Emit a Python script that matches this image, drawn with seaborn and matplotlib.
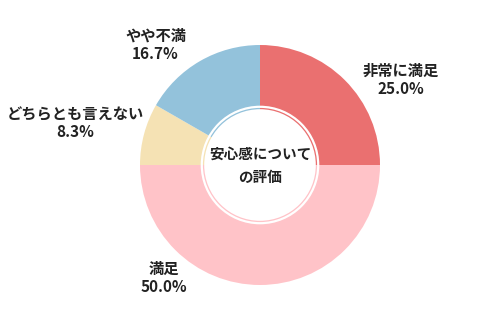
import matplotlib
matplotlib.use("Agg")
import matplotlib.pyplot as plt
from matplotlib.patches import Circle
import seaborn as sns
import numpy as np

labels = ["非常に満足", "満足", "どちらとも言えない", "やや不満"]
values = [25.0, 50.0, 8.3, 16.7]
colors = ["#EA7070", "#FFC3C8", "#F5E2B4", "#93C2DB"]
center_title = "安心感について\nの評価"

sns.set_theme(style="white")
plt.rcParams['font.family'] = ['Noto Sans CJK JP', 'DejaVu Sans']

fig = plt.figure(figsize=(5.0, 3.21), dpi=100)
ax = fig.add_axes([0, 0, 1, 1])

ax.pie(values, colors=colors, startangle=90, counterclock=False,
       radius=1.0, wedgeprops=dict(linewidth=0))

ax.add_patch(Circle((0, 0), 0.485, facecolor='none', edgecolor='white', lw=1.6, zorder=3))
ax.add_patch(Circle((0, 0), 0.465, facecolor='white', edgecolor='none', zorder=4))
ax.text(0, 0.0, center_title, ha='center', va='center', fontsize=10.5,
        fontweight='bold', color='#222222', linespacing=1.55, zorder=5)

# label positions (offsets in radius units)
label_pos = [(1.17, 0.71), (-0.80, -0.94), (-1.54, 0.35), (-0.87, 1.0)]
for lab, v, (x, y) in zip(labels, values, label_pos):
    ax.text(x, y, f"{lab}\n{v:.1f}%", ha='center', va='center', fontsize=11,
            fontweight='bold', color='#222222', linespacing=1.15)

ax.set_xlim(-260/120, 240/120)
ax.set_ylim(-156/120, 165/120)
ax.set_aspect('equal')
ax.axis('off')

fig.savefig("out.png", dpi=100)
